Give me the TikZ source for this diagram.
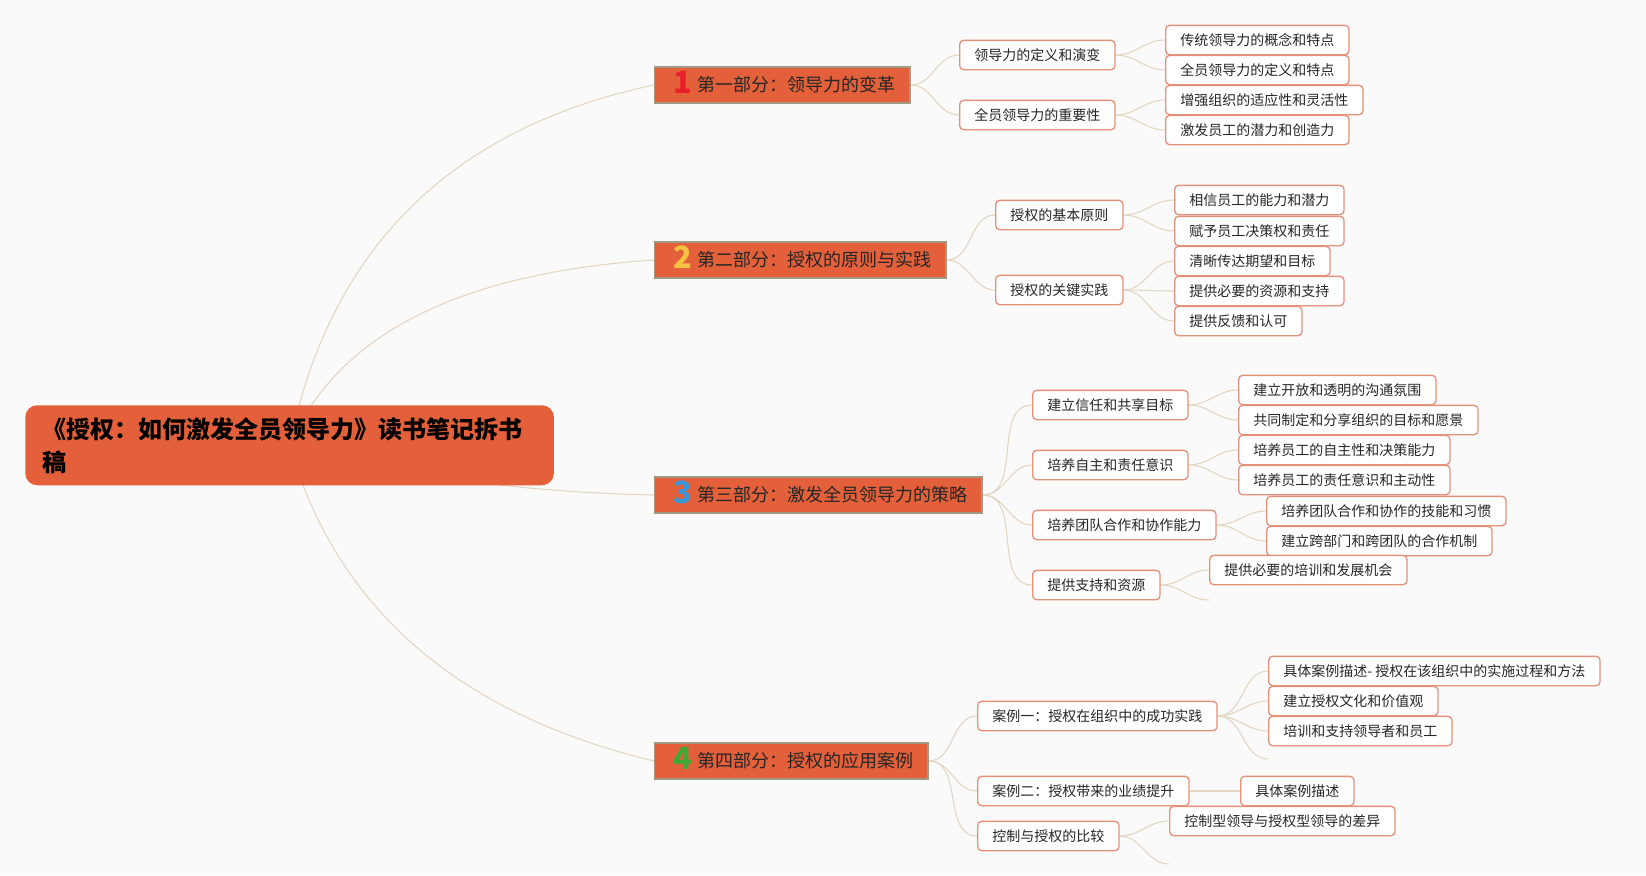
\documentclass[tikz,border=0pt]{standalone}
\usepackage{fontspec}
\setmainfont{Noto Sans CJK SC}
\usepackage{xcolor}
\definecolor{bgc}{RGB}{250,250,250}
\definecolor{rootc}{HTML}{E4603A}
\definecolor{partb}{HTML}{A39A85}
\definecolor{subb}{HTML}{E5917A}
\definecolor{linkc}{HTML}{E2D6C2}
\definecolor{noa}{HTML}{E8202A}
\definecolor{nob}{HTML}{F5C342}
\definecolor{noc}{HTML}{3A97D9}
\definecolor{nod}{HTML}{3DAA35}
\newcommand{\numtag}[2]{\hspace{3pt}\smash{\raisebox{-1.5pt}{\fontsize{23}{23}\selectfont\bfseries\color{#1}#2}}\hspace{4pt}}
\pgfdeclarelayer{back}
\pgfdeclarelayer{lines}
\pgfsetlayers{back,lines,main}

\begin{document}
\begin{tikzpicture}[x=0.75pt, y=-0.75pt,
  root/.style={fill=rootc, rounded corners=9pt, anchor=north west, inner xsep=12.75pt,
             text width=371pt, minimum height=60pt, align=left,
             font=\fontsize{18}{24.75}\selectfont\bfseries, text=black},
  part/.style={draw=partb, line width=1.1pt, fill=rootc, anchor=west, inner xsep=11pt,
             minimum height=27pt, font=\fontsize{13.5}{16}\selectfont, text=black!85},
  sub/.style={draw=subb, line width=1pt, fill=white, rounded corners=3pt, anchor=west,
             inner xsep=11pt, minimum height=22pt, font=\fontsize{10.5}{12}\selectfont, text=black!85},
  lnk/.style={draw=linkc, line width=0.8pt}
]

% Background
\begin{pgfonlayer}{back}
\fill[bgc] (0,0) rectangle (1646,875);
\end{pgfonlayer}

% ======= Root =======
\node[root] (root) at (25,405) {《授权：如何激发全员领导力》读书笔记拆书\\稿};

% ======= Parts =======
\node[part] (p1) at (654,85)  {\numtag{noa}{1}第一部分：领导力的变革};
\node[part] (p2) at (654,260) {\numtag{nob}{2}第二部分：授权的原则与实践};
\node[part] (p3) at (654,495) {\numtag{noc}{3}第三部分：激发全员领导力的策略};
\node[part] (p4) at (654,761) {\numtag{nod}{4}第四部分：授权的应用案例};

% ======= Part 1 =======
\node[sub] (a1) at (959,55)  {领导力的定义和演变};
\node[sub] (a2) at (959,115) {全员领导力的重要性};
\node[sub] (a11) at (1165,40)  {传统领导力的概念和特点};
\node[sub] (a12) at (1165,70)  {全员领导力的定义和特点};
\node[sub] (a21) at (1165,100) {增强组织的适应性和灵活性};
\node[sub] (a22) at (1165,130) {激发员工的潜力和创造力};

% ======= Part 2 =======
\node[sub] (b1) at (995,215) {授权的基本原则};
\node[sub] (b2) at (995,290) {授权的关键实践};
\node[sub] (b11) at (1174,200) {相信员工的能力和潜力};
\node[sub] (b12) at (1174,231) {赋予员工决策权和责任};
\node[sub] (b21) at (1174,261) {清晰传达期望和目标};
\node[sub] (b22) at (1174,291) {提供必要的资源和支持};
\node[sub] (b23) at (1174,321) {提供反馈和认可};

% ======= Part 3 =======
\node[sub] (c1) at (1032,405) {建立信任和共享目标};
\node[sub] (c2) at (1032,465) {培养自主和责任意识};
\node[sub] (c3) at (1032,525) {培养团队合作和协作能力};
\node[sub] (c4) at (1032,585) {提供支持和资源};
\node[sub] (c11) at (1238,390) {建立开放和透明的沟通氛围};
\node[sub] (c12) at (1238,420) {共同制定和分享组织的目标和愿景};
\node[sub] (c21) at (1238,450) {培养员工的自主性和决策能力};
\node[sub] (c22) at (1238,480) {培养员工的责任意识和主动性};
\node[sub] (c31) at (1266,511) {培养团队合作和协作的技能和习惯};
\node[sub] (c32) at (1266,541) {建立跨部门和跨团队的合作机制};
\node[sub] (c41) at (1209,570) {提供必要的培训和发展机会};
\coordinate (c4x) at (1209,600);

% ======= Part 4 =======
\node[sub] (d1) at (977,716) {案例一：授权在组织中的成功实践};
\node[sub] (d2) at (977,791) {案例二：授权带来的业绩提升};
\node[sub] (d3) at (977,836) {控制与授权的比较};
\node[sub] (d11) at (1268,671) {具体案例描述- 授权在该组织中的实施过程和方法};
\node[sub] (d12) at (1268,701) {建立授权文化和价值观};
\node[sub] (d13) at (1268,731) {培训和支持领导者和员工};
\coordinate (d1x) at (1268,759);
\node[sub] (d21) at (1240,791) {具体案例描述};
\node[sub] (d31) at (1169,821) {控制型领导与授权型领导的差异};
\coordinate (d3x) at (1169,864);

% ======= Connectors =======
\begin{pgfonlayer}{lines}
\draw[lnk] (root.center) .. controls +(40,-197) and +(-203,43) .. (p1.west);
\draw[lnk] (root.center) .. controls +(47,-110) and +(-196,13) .. (p2.west);
\draw[lnk] (root.center) .. controls +(107,30) and +(-136,-3) .. (p3.west);
\draw[lnk] (root.center) .. controls +(47,163) and +(-196,-47) .. (p4.west);

\foreach \s in {a1,a2} \draw[lnk] (p1.east) to[out=0,in=180] (\s.west);
\foreach \s in {b1,b2} \draw[lnk] (p2.east) to[out=0,in=180] (\s.west);
\foreach \s in {c1,c2,c3,c4} \draw[lnk] (p3.east) to[out=0,in=180] (\s.west);
\foreach \s in {d1,d2,d3} \draw[lnk] (p4.east) to[out=0,in=180] (\s.west);

\foreach \p/\s in {a1/a11,a1/a12,a2/a21,a2/a22,b1/b11,b1/b12,b2/b21,b2/b22,b2/b23,
                   c1/c11,c1/c12,c2/c21,c2/c22,c3/c31,c3/c32,c4/c41,
                   d1/d11,d1/d12,d1/d13,d2/d21,d3/d31}
  \draw[lnk] (\p.east) to[out=0,in=180] (\s.west);
\draw[lnk] (c4.east) to[out=0,in=180] (c4x);
\draw[lnk] (d1.east) to[out=0,in=180] (d1x);
\draw[lnk] (d3.east) to[out=0,in=180] (d3x);
\end{pgfonlayer}

\end{tikzpicture}
\end{document}
